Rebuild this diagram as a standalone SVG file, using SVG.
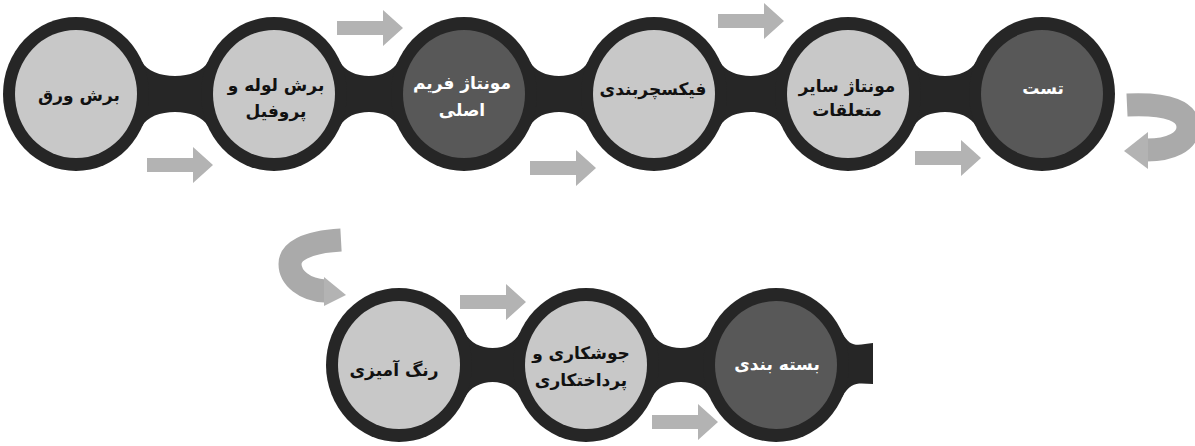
<svg xmlns="http://www.w3.org/2000/svg" width="1195" height="446" viewBox="0 0 1195 446">
  <defs>
    <style>
      .ring { fill: #262626; }
      .light { fill: #c8c8c8; }
      .dark { fill: #585858; }
      .arrow { fill: #b3b3b3; }
      .curve { fill: none; stroke: #aaaaaa; stroke-width: 23; }
      .t { font-family: "DejaVu Sans", sans-serif; font-weight: bold; font-size: 17px; text-anchor: middle; dominant-baseline: central; direction: rtl; }
      .tb { fill: #111111; }
      .tw { fill: #ffffff; }
    </style>
    <path id="arr" d="M0 -7 H46 V-18 L66 0 L46 18 V7 H0 Z"/>
  </defs>
  <rect width="1195" height="446" fill="#ffffff"/>

  <g id="connectors">
    <!-- chain necks -->
    <g class="ring">
      <path d="M142.1 61.5 C150.7 80.8 199.3 80.8 207.9 61.5 L207.9 126.5 C199.3 107.2 150.7 107.2 142.1 126.5 Z"/>
      <path d="M340.1 61.5 C348.7 80.8 389.3 80.8 397.9 61.5 L397.9 126.5 C389.3 107.2 348.7 107.2 340.1 126.5 Z"/>
      <path d="M530.1 61.5 C538.7 80.8 579.3 80.8 587.9 61.5 L587.9 126.5 C579.3 107.2 538.7 107.2 530.1 126.5 Z"/>
      <path d="M720.1 61.5 C728.7 80.8 773.3 80.8 781.9 61.5 L781.9 126.5 C773.3 107.2 728.7 107.2 720.1 126.5 Z"/>
      <path d="M914.1 61.5 C922.7 80.8 967.3 80.8 975.9 61.5 L975.9 126.5 C967.3 107.2 922.7 107.2 914.1 126.5 Z"/>
      <path d="M465.1 332.5 C474.3 353.2 510.7 353.2 519.9 332.5 L519.9 397.5 C510.7 376.8 474.3 376.8 465.1 397.5 Z"/>
      <path d="M652.1 332.5 C661.3 353.2 700.7 353.2 709.9 332.5 L709.9 397.5 C700.7 376.8 661.3 376.8 652.1 397.5 Z"/>
      <path d="M842.1 332.5 C851 350 860 344 873 343 L873 384 C860 384 851 380 842.1 397.5 Z"/>
    </g>
    <!-- straight arrows -->
    <g class="arrow">
      <use href="#arr" x="337" y="28"/>
      <use href="#arr" x="147" y="165"/>
      <use href="#arr" x="530" y="168"/>
      <use href="#arr" x="718" y="21"/>
      <use href="#arr" x="915" y="158"/>
      <use href="#arr" x="460" y="302"/>
      <use href="#arr" x="652" y="422"/>
    </g>
    <!-- curved arrows -->
    <path class="curve" d="M1127 105 C1170 103 1188 112 1188 127 C1188 142 1170 150 1147 150"/>
    <polygon class="arrow" points="1148,132 1148,169 1124,151"/>
    <path class="curve" d="M341 240 C305 242 290 252 290 264 C290 278 305 290 325 291"/>
    <polygon class="arrow" points="324,277 324,306 346,295"/>
  </g>

  <g id="n1">
    <ellipse class="ring" cx="76" cy="94" rx="73" ry="77"/>
    <ellipse class="light" cx="76" cy="94" rx="61" ry="64"/>
    <text class="t tb" x="79" y="95">برش ورق</text>
  </g>
  <g id="n2">
    <ellipse class="ring" cx="274" cy="94" rx="73" ry="77"/>
    <ellipse class="light" cx="274" cy="94" rx="61" ry="64"/>
    <text class="t tb" x="276" y="85">برش لوله و</text>
    <text class="t tb" x="276" y="111">پروفیل</text>
  </g>
  <g id="n3">
    <ellipse class="ring" cx="464" cy="94" rx="73" ry="77"/>
    <ellipse class="dark" cx="464" cy="94" rx="61" ry="64"/>
    <text class="t tw" x="462" y="83">مونتاژ فریم</text>
    <text class="t tw" x="462" y="110">اصلی</text>
  </g>
  <g id="n4">
    <ellipse class="ring" cx="654" cy="94" rx="73" ry="77"/>
    <ellipse class="light" cx="654" cy="94" rx="61" ry="64"/>
    <text class="t tb" x="653" y="89">فیکسچربندی</text>
  </g>
  <g id="n5">
    <ellipse class="ring" cx="848" cy="94" rx="73" ry="77"/>
    <ellipse class="light" cx="848" cy="94" rx="61" ry="64"/>
    <text class="t tb" x="847" y="86">مونتاژ سایر</text>
    <text class="t tb" x="847" y="110">متعلقات</text>
  </g>
  <g id="n6">
    <ellipse class="ring" cx="1042" cy="94" rx="73" ry="77"/>
    <ellipse class="dark" cx="1042" cy="94" rx="61" ry="64"/>
    <text class="t tw" x="1043" y="88">تست</text>
  </g>
  <g id="n7">
    <ellipse class="ring" cx="399" cy="365" rx="73" ry="77"/>
    <ellipse class="light" cx="399" cy="365" rx="61" ry="64"/>
    <text class="t tb" x="394" y="370">رنگ آمیزی</text>
  </g>
  <g id="n8">
    <ellipse class="ring" cx="586" cy="365" rx="73" ry="77"/>
    <ellipse class="light" cx="586" cy="365" rx="61" ry="64"/>
    <text class="t tb" x="581" y="353">جوشکاری و</text>
    <text class="t tb" x="581" y="380">پرداختکاری</text>
  </g>
  <g id="n9">
    <ellipse class="ring" cx="776" cy="365" rx="73" ry="77"/>
    <ellipse class="dark" cx="776" cy="365" rx="61" ry="64"/>
    <text class="t tw" x="777" y="364">بسته بندی</text>
  </g>
</svg>
